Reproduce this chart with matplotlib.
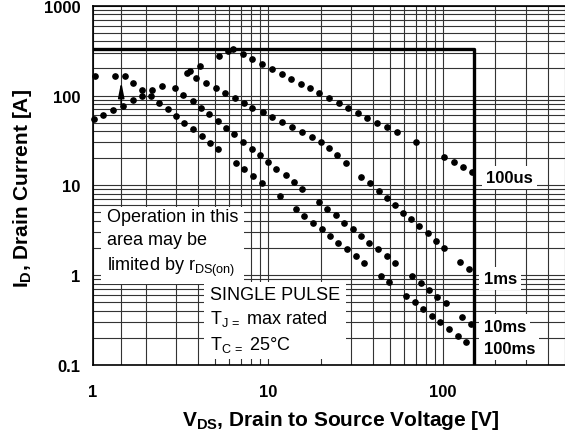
import matplotlib
matplotlib.use("Agg")
import matplotlib.pyplot as plt
from matplotlib.ticker import FixedLocator, NullFormatter

plt.rcParams["font.family"] = ["Liberation Sans", "DejaVu Sans"]
plt.rcParams["mathtext.fontset"] = "custom"
plt.rcParams["mathtext.rm"] = "Liberation Sans"
plt.rcParams["mathtext.bf"] = "Liberation Sans:bold"
plt.rcParams["mathtext.it"] = "Liberation Sans:italic"

# SOA curves (dotted)
vds_100us = [1.01, 1.145, 1.306, 1.478, 1.686, 1.898, 2.165, 2.47, 3.43, 3.58, 4.09, 5.25,
             5.93, 6.29, 7.17, 8.13, 9.2, 10.5, 11.97, 13.5, 15.4, 17.4, 19.6, 22.4, 25.5,
             28.8, 32.8, 37.1, 42.1, 48.1, 54.4, 70.1, 101.7, 116, 130.6, 147.8]
id_100us = [54.1, 60.4, 68.7, 77.4, 88.7, 100, 114.5, 129.2, 178.7, 186.2, 211.7, 273.3,
            310.7, 330.3, 292.8, 257.8, 226.8, 199.5, 175.6, 154.5, 135.9, 121.8, 107.2, 94.3,
            82.9, 73.0, 64.2, 56.5, 49.7, 44.4, 39.1, 30.3, 20.8, 18.2, 16.1, 14.1]

vds_1ms = [3.88, 4.42, 5.02, 5.68, 6.48, 7.32, 8.13, 9.4, 10.6, 12.1, 13.8, 15.6, 17.8, 20.1,
           22.4, 25.0, 27.9, 34.3, 38.3, 43.1, 47.7, 53.2, 59.3, 66.2, 73.2, 81.8, 91.2,
           101.7, 126.2, 141.3]
id_1ms = [158.5, 138.4, 121.8, 107.2, 94.3, 82.9, 73.0, 65.2, 58.0, 51.0, 44.9, 39.5, 34.8,
          30.6, 25.8, 21.5, 17.9, 12.5, 10.5, 8.65, 7.3, 6.04, 4.97, 4.19, 3.53, 2.93, 2.4,
          2.03, 1.41, 1.17]

vds_10ms = [2.94, 3.28, 3.71, 4.14, 4.62, 5.2, 5.75, 6.42, 7.22, 8.07, 9.0, 10.0, 11.2, 12.7,
            14.1, 15.7, 19.6, 21.9, 24.5, 27.3, 30.5, 34.0, 37.9, 42.7, 47.7, 53.2, 67.1,
            74.9, 83.5, 93.3, 104, 129.6, 145.9]
id_10ms = [121.8, 102.6, 86.5, 73.0, 61.5, 51.8, 43.8, 36.9, 30.3, 25.6, 21.5, 18.2, 15.3,
           13.0, 10.9, 9.19, 6.52, 5.45, 4.64, 3.85, 3.24, 2.73, 2.31, 1.94, 1.64, 1.38,
           0.967, 0.809, 0.681, 0.574, 0.485, 0.344, 0.285]

vds_100ms = [1.02, 1.34, 1.52, 1.7, 1.9, 2.14, 2.39, 2.67, 2.98, 3.32, 3.71, 4.18, 4.66, 5.2,
             6.54, 7.32, 8.24, 9.2, 11.7, 14.5, 16.1, 18.0, 20.3, 22.6, 25.2, 28.2, 31.8,
             35.4, 44.2, 49.3, 62.0, 69.2, 77.2, 86.9, 97.0, 108.6, 122.3, 136.6]
id_100ms = [166.8, 166.8, 166.8, 138.4, 116.6, 100, 82.9, 71.2, 58.9, 49.7, 41.9, 35.3, 29.8,
            25.1, 17.9, 15.1, 12.7, 10.7, 7.6, 5.41, 4.56, 3.85, 3.24, 2.73, 2.31, 1.94, 1.64,
            1.38, 0.982, 0.83, 0.589, 0.497, 0.419, 0.353, 0.298, 0.251, 0.212, 0.179]

# package limits (thick lines)
i_limit = 330
v_limit = 150

x_ticks = [1, 10, 100]
x_labels = ["1", "10", "100"]
y_ticks = [0.1, 1, 10, 100, 1000]
y_labels = ["0.1", "1", "10", "100", "1000"]

fig = plt.figure(figsize=(5.65, 4.39), dpi=100)
ax = fig.add_axes([93 / 565, 1 - 366 / 439, 472 / 565, 359.3 / 439])
ax.set_xscale("log")
ax.set_yscale("log")
ax.set_xlim(1, 500)
ax.set_ylim(0.1, 1000)

minor_x = [m * 10 ** e for e in range(0, 3) for m in range(2, 10)]
minor_y = [m * 10 ** e for e in range(-1, 3) for m in range(2, 10)]
ax.xaxis.set_major_locator(FixedLocator(x_ticks))
ax.xaxis.set_minor_locator(FixedLocator(minor_x + [1.45]))
ax.yaxis.set_major_locator(FixedLocator(y_ticks))
ax.yaxis.set_minor_locator(FixedLocator(minor_y))
ax.set_xticklabels(x_labels)
ax.set_yticklabels(y_labels)
ax.xaxis.set_minor_formatter(NullFormatter())
ax.yaxis.set_minor_formatter(NullFormatter())
ax.grid(True, which="both", color="0.2", lw=0.8)
ax.tick_params(which="both", length=0)
ax.tick_params(axis="x", pad=14, labelsize=12)
ax.tick_params(axis="y", pad=9, labelsize=12)
for lab in ax.get_xticklabels() + ax.get_yticklabels():
    lab.set_fontweight("bold")

for s in ["left", "bottom", "top"]:
    ax.spines[s].set_linewidth(1.2)
ax.spines["right"].set_visible(False)

ax.plot([1, v_limit, v_limit], [i_limit, i_limit, 0.1], color="black", lw=2.4, zorder=3)

for vx, iy in [(vds_100us, id_100us), (vds_1ms, id_1ms), (vds_10ms, id_10ms), (vds_100ms, id_100ms)]:
    ax.plot(vx, iy, "o", color="black", ms=3.8, zorder=4, clip_on=False)

ax.annotate("", xy=(1.45, 142), xytext=(1.45, 80),
            arrowprops=dict(arrowstyle="-|>,head_width=0.18,head_length=0.9",
                            color="black", lw=1.2, shrinkA=0, shrinkB=0), zorder=4)

box = dict(facecolor="white", edgecolor="none", pad=4)
ax.text(1.2, 5.55, "Operation in this\narea may be\nlimited by r$_{\\mathrm{DS(on)}}$",
        fontsize=13, va="top", ha="left", linespacing=1.45, bbox=box, zorder=5)
ax.text(4.66, 0.755, "SINGLE PULSE\nT$_{\\mathrm{J\\,=}}$ max rated\nT$_{\\mathrm{C\\,=}}$ 25°C",
        fontsize=13, va="top", ha="left", linespacing=1.35, bbox=box, zorder=5)

lab_box = dict(facecolor="white", edgecolor="none", pad=3)
ax.text(176, 12.3, "100us", fontsize=12, fontweight="bold", va="center", bbox=lab_box, zorder=5)
ax.text(171, 0.926, "1ms", fontsize=12, fontweight="bold", va="center", bbox=lab_box, zorder=5)
ax.text(171, 0.271, "10ms", fontsize=12, fontweight="bold", va="center", bbox=lab_box, zorder=5)
ax.text(171, 0.154, "100ms", fontsize=12, fontweight="bold", va="center", bbox=lab_box, zorder=5)

fig.text(23 / 565, 1 - 189 / 439, "$\\mathbf{I_D}$, Drain Current [A]", rotation=90,
         fontsize=15, fontweight="bold", ha="center", va="center")
fig.text(341 / 565, 1 - 421 / 439, "$\\mathbf{V_{DS}}$, Drain to Source Voltage [V]",
         fontsize=15, fontweight="bold", ha="center", va="center")

fig.savefig("out.png", dpi=100)
